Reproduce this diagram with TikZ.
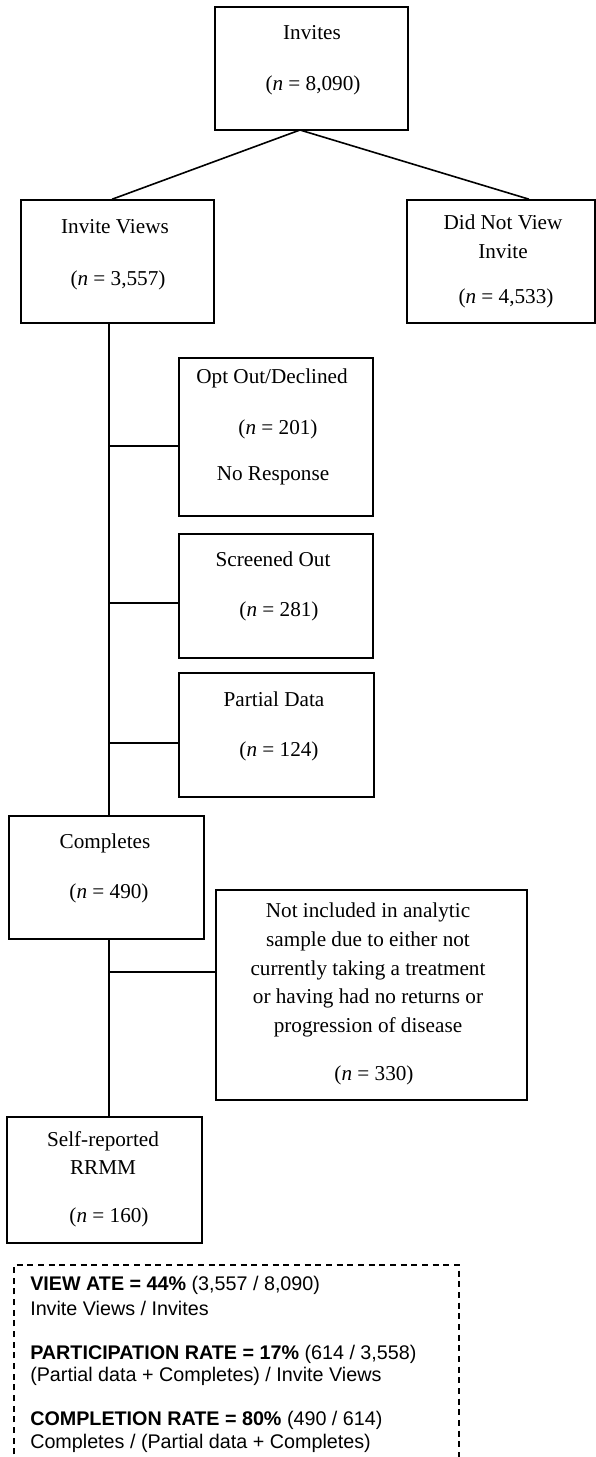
\documentclass[tikz,border=0pt]{standalone}
\usepackage{fontspec}
\setmainfont{Liberation Serif}
\newfontfamily\notefont{Liberation Sans}
\usetikzlibrary{fit}

\tikzset{
  box/.style={draw, line width=1.2pt, inner sep=0pt},
  wire/.style={line width=1.2pt},
  lbl/.style={inner sep=0.75pt, align=center, font=\fontsize{15.9}{21.5}\selectfont},
  note/.style={inner sep=0pt, anchor=base west, font=\notefont\fontsize{14.8}{17}\selectfont},
}

\begin{document}
\begin{tikzpicture}[x=0.75pt,y=0.75pt,yscale=-1,xscale=1]
	\useasboundingbox (0,0) rectangle (596,1457);
	\clip (0,0) rectangle (596,1457);
	% boxes
	\node[box, fit={(215,7) (408,130)}] (inv) {};
	\node[box, fit={(21,200) (214,323)}] (views) {};
	\node[box, fit={(407,200) (595,323)}] (nview) {};
	\node[box, fit={(179,358) (373,516)}] (opt) {};
	\node[box, fit={(179,534) (373,658)}] (scr) {};
	\node[box, fit={(179,673) (374,797)}] (part) {};
	\node[box, fit={(9,816) (204,939)}] (comp) {};
	\node[box, fit={(216,890) (527,1100)}] (excl) {};
	\node[box, fit={(7,1117) (202,1243)}] (self) {};
	% texts
	\node[lbl] (invA) at (312,33) {Invites};
	\node[lbl] (invB) at (313,85) {(\textit{n} = 8,090)};
	\node[lbl] (viewsA) at (115,227) {Invite Views};
	\node[lbl] (viewsB) at (118,280) {(\textit{n} = 3,557)};
	\node[lbl] (nviewA) at (503,237) {Did Not View\\Invite};
	\node[lbl] (nviewB) at (506,298) {(\textit{n} = 4,533)};
	\node[lbl] (optA) at (272,378) {Opt Out/Declined};
	\node[lbl] (optB) at (278,429) {(\textit{n} = 201)};
	\node[lbl] (optC) at (273,476) {No Response};
	\node[lbl] (scrA) at (273,559) {Screened Out};
	\node[lbl] (scrB) at (279,611) {(\textit{n} = 281)};
	\node[lbl] (partA) at (274,699) {Partial Data};
	\node[lbl] (partB) at (279,751) {(\textit{n} = 124)};
	\node[lbl] (compA) at (105,843) {Completes};
	\node[lbl] (compB) at (109,893) {(\textit{n} = 490)};
	\node[lbl] (exclA) at (368,970) {Not included in analytic\\sample due to either not\\currently taking a treatment\\or having had no returns or\\progression of disease};
	\node[lbl] (exclB) at (374,1075) {(\textit{n} = 330)};
	\node[lbl] (selfA) at (103,1153) {Self-reported\\RRMM};
	\node[lbl] (selfB) at (109,1217) {(\textit{n} = 160)};
	% split from the top box
	\coordinate (fork) at (300,130);
	\draw[wire] (fork) -- ([xshift=-4pt]views.north);
	\draw[wire] (fork) -- ([xshift=21pt]nview.north);
	% trunk and branches
	\coordinate (tx) at (109,0);
	\draw[wire] (views.south -| tx) -- (comp.north -| tx);
	\draw[wire] (comp.south -| tx) -- (self.north -| tx);
	\coordinate (b1) at (109,446);
	\coordinate (b2) at (109,603);
	\coordinate (b3) at (109,743);
	\coordinate (b4) at (109,972);
	\draw[wire] (b1) -- (b1 -| opt.west);
	\draw[wire] (b2) -- (b2 -| scr.west);
	\draw[wire] (b3) -- (b3 -| part.west);
	\draw[wire] (b4) -- (b4 -| excl.west);
	% rates
	\draw[line width=0.9pt, dash pattern=on 4.5pt off 3.5pt] (14,1465) -- (14,1265) -- (459,1265) -- (459,1465);
	\node[note] (viewA) at (30,1290) {\textbf{VIEW ATE = 44\%} (3,557 / 8,090)};
	\node[note] (viewB) at (30,1315) {Invite Views / Invites};
	\node[note] (partRA) at (30,1359) {\textbf{PARTICIPATION RATE = 17\%} (614 / 3,558)};
	\node[note] (partRB) at (30,1381) {(Partial data + Completes) / Invite Views};
	\node[note] (compRA) at (30,1425) {\textbf{COMPLETION RATE = 80\%} (490 / 614)};
	\node[note] (compRB) at (30,1448) {Completes / (Partial data + Completes)};
\end{tikzpicture}
\end{document}
